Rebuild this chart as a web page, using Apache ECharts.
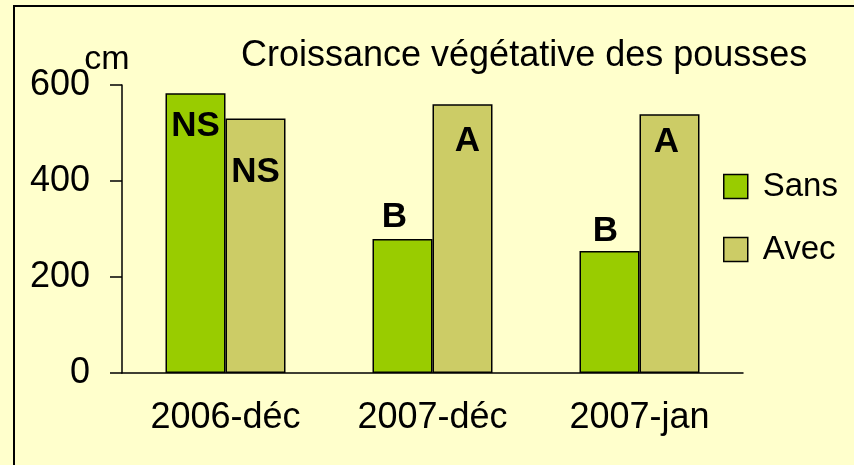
<!DOCTYPE html>
<html>
<head>
<meta charset="utf-8">
<script src="https://cdn.jsdelivr.net/npm/echarts@6/dist/echarts.min.js"></script>
<style>
  html, body { margin: 0; padding: 0; background: #ffffcc; }
  #chart { width: 854px; height: 465px; }
</style>
</head>
<body>
<div id="chart"></div>
<script>
  // valeurs (cm)
  var categories = ['2006-déc', '2007-déc', '2007-jan'];
  var seriesNames = ['Sans', 'Avec'];
  var sansValues = [583, 279, 254];
  var avecValues = [530, 560, 539];
  var sansLetters = ['NS', 'B', 'B'];
  var avecLetters = ['NS', 'A', 'A'];
  var yTicks = [0, 200, 400, 600];

  var font = "'Liberation Sans', Arial, sans-serif";

  // placement des lettres au-dessus / dans les barres
  var sansLabelLayout = [
    { position: 'insideTop', distance: 16, offset: [0, 0] },
    { position: 'top', distance: 4, offset: [-8, 0] },
    { position: 'top', distance: 2, offset: [-4, 0] }
  ];
  var avecLabelLayout = [
    { position: 'insideTop', distance: 36, offset: [0, 0] },
    { position: 'insideTop', distance: 20, offset: [5, 0] },
    { position: 'insideTop', distance: 11, offset: [-3, 0] }
  ];

  function buildData(values, letters, layout) {
    return values.map(function (v, i) {
      return {
        value: v,
        label: {
          show: true,
          formatter: letters[i],
          position: layout[i].position,
          distance: layout[i].distance,
          offset: layout[i].offset,
          color: '#000',
          fontFamily: font,
          fontWeight: 'bold',
          fontSize: 35
        }
      };
    });
  }

  var myChart = echarts.init(document.getElementById('chart'));

  var option = {
    animation: false,
    backgroundColor: '#ffffcc',
    color: ['#99cc00', '#cccc66'],
    title: {
      text: 'Croissance végétative des pousses',
      left: 241,
      top: 38,
      padding: 0,
      textStyle: {
        fontFamily: font,
        fontWeight: 'normal',
        fontSize: 36,
        color: '#000'
      }
    },
    legend: {
      data: seriesNames,
      orient: 'vertical',
      left: 723,
      top: 170,
      padding: 0,
      icon: 'rect',
      itemWidth: 24,
      itemHeight: 24,
      itemGap: 30,
      itemStyle: {
        borderColor: '#000',
        borderWidth: 1.5
      },
      textStyle: {
        fontFamily: font,
        fontSize: 33,
        color: '#000',
        padding: [0, 0, 0, 10]
      }
    },
    grid: {
      left: 122,
      right: 111,
      top: 85,
      bottom: 92
    },
    xAxis: {
      type: 'category',
      data: categories,
      axisLine: {
        lineStyle: { color: '#000', width: 1.5 }
      },
      axisTick: {
        length: 12,
        lineStyle: { color: '#000', width: 1.5 }
      },
      axisLabel: {
        margin: 27,
        fontFamily: font,
        fontSize: 36,
        color: '#000'
      }
    },
    yAxis: {
      type: 'value',
      min: yTicks[0],
      max: yTicks[yTicks.length - 1],
      interval: yTicks[1] - yTicks[0],
      name: 'cm',
      nameLocation: 'end',
      nameGap: 8,
      nameMoveOverlap: false,
      nameTextStyle: {
        fontFamily: font,
        fontSize: 34,
        color: '#000',
        align: 'center',
        verticalAlign: 'bottom',
        padding: [0, 30, 0, 0]
      },
      splitLine: { show: false },
      axisLine: {
        show: true,
        lineStyle: { color: '#000', width: 1.5 }
      },
      axisTick: {
        show: true,
        length: 12,
        lineStyle: { color: '#000', width: 1.5 }
      },
      axisLabel: {
        margin: 32,
        fontFamily: font,
        fontSize: 36,
        color: '#000'
      }
    },
    series: [{
      name: seriesNames[0],
      type: 'bar',
      barWidth: 60,
      barGap: '0%',
      itemStyle: { borderColor: '#000', borderWidth: 1.5 },
      data: buildData(sansValues, sansLetters, sansLabelLayout)
    }, {
      name: seriesNames[1],
      type: 'bar',
      barWidth: 60,
      barGap: '0%',
      itemStyle: { borderColor: '#000', borderWidth: 1.5 },
      data: buildData(avecValues, avecLetters, avecLabelLayout)
    }],
    graphic: [{
      type: 'rect',
      silent: true,
      z: -10,
      shape: { x: 14, y: 6, width: 900, height: 600 },
      style: { fill: 'none', stroke: '#000', lineWidth: 2 }
    }]
  };

  myChart.setOption(option);
  window.addEventListener('resize', function () {
    myChart.resize();
  });
</script>
</body>
</html>
